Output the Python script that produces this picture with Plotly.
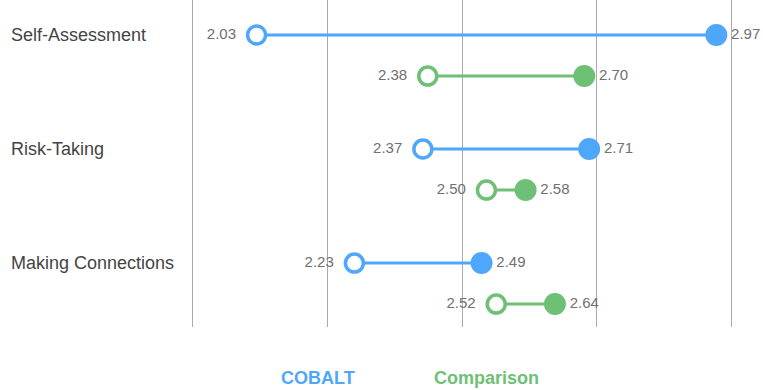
import plotly.graph_objects as go

# Survey dimensions and scores (pre = open marker, post = filled marker)
categories = ["Self-Assessment", "Risk-Taking", "Making Connections"]
series_names = ["COBALT", "Comparison"]
cobalt_start = [2.03, 2.37, 2.23]
cobalt_end = [2.97, 2.71, 2.49]
comparison_start = [2.38, 2.50, 2.52]
comparison_end = [2.70, 2.58, 2.64]

# Vertical divider positions on the score axis
grid_values = [1.9, 2.175, 2.45, 2.725, 3.0]

BLUE = "#4FA7FB"
GREEN = "#6EC077"
GRID = "#ababab"
FONT = "Liberation Sans, Arial, Helvetica, sans-serif"
NBSP = "\u00a0"

series = [
    (series_names[0], cobalt_start, cobalt_end, BLUE, 0.0),
    (series_names[1], comparison_start, comparison_end, GREEN, 0.36),
]

fig = go.Figure()

for name, starts, ends, color, offset in series:
    ys = [i + offset for i in range(len(categories))]
    # connector lines
    for y, s, e in zip(ys, starts, ends):
        fig.add_trace(go.Scatter(
            x=[s, e], y=[y, y], mode="lines",
            line=dict(color=color, width=3),
            hoverinfo="skip", showlegend=False, cliponaxis=False,
        ))
    # open start markers with labels on the left
    fig.add_trace(go.Scatter(
        x=starts, y=ys, mode="markers+text",
        marker=dict(size=18, color="white", line=dict(color=color, width=3.5)),
        text=[f"{v:.2f}" + NBSP * 2 for v in starts], textposition="middle left",
        textfont=dict(size=15, color="#707070", family=FONT),
        name=name, showlegend=False, cliponaxis=False,
    ))
    # filled end markers with labels on the right
    fig.add_trace(go.Scatter(
        x=ends, y=ys, mode="markers+text",
        marker=dict(size=22, color=color),
        text=[f"{v:.2f}" for v in ends], textposition="middle right",
        textfont=dict(size=15, color="#707070", family=FONT),
        name=name, showlegend=False, cliponaxis=False,
    ))

# Category labels, left-aligned in the margin
for i, cat in enumerate(categories):
    fig.add_annotation(
        x=-0.342, xref="paper", y=i, yref="y",
        text=cat, showarrow=False, xanchor="left", yanchor="middle",
        font=dict(size=18, color="#444444", family=FONT),
    )

# Legend text below the plot
for (name, _, _, color, _), xpos in zip(series, [0.232, 0.546]):
    fig.add_annotation(
        x=xpos, xref="paper", y=-0.155, yref="paper",
        text=f"<b>{name}</b>", showarrow=False, xanchor="center", yanchor="middle",
        font=dict(size=18, color=color, family=FONT),
    )

fig.update_xaxes(
    range=[grid_values[0], grid_values[-1]], tickvals=grid_values, showticklabels=False,
    showgrid=True, gridcolor=GRID, gridwidth=1, zeroline=False,
    showline=False, fixedrange=True,
)
# Left/right frame lines act as the outer dividers
fig.update_yaxes(
    range=[2.561, -0.307], showticklabels=False, showgrid=False,
    zeroline=False, showline=True, mirror=True, linecolor=GRID, linewidth=1,
    ticks="", fixedrange=True,
)
fig.update_layout(
    width=763, height=390,
    margin=dict(l=193, r=32, t=0, b=63),
    plot_bgcolor="white", paper_bgcolor="white",
    showlegend=False,
    font=dict(family=FONT),
)

fig.write_html("out.html")
